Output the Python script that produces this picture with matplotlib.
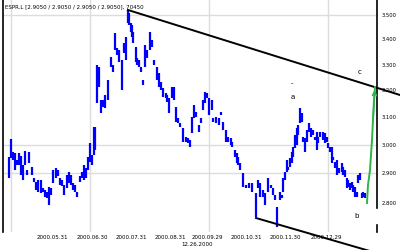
import matplotlib
matplotlib.use('Agg')
import matplotlib.pyplot as plt

# bar time index, high and low of each bar
t = [9, 11, 13, 15, 17, 19, 21, 23, 25, 27, 29, 32, 34, 36, 38, 41, 43, 45, 47, 49,
     51, 53, 56, 58, 60, 62, 64, 67, 69, 71, 73, 75, 77, 80, 82, 84, 86, 88, 90, 92,
     94, 95, 97, 99, 101, 103, 105, 108, 111, 113, 115, 117, 119, 122, 124, 126, 128, 129, 131, 132,
     133, 136, 137, 139, 141, 143, 145, 147, 150, 152, 154, 157, 159, 161, 163, 166, 167, 169, 172, 174,
     176, 178, 180, 183, 186, 188, 190, 192, 194, 196, 199, 201, 203, 205, 207, 209, 212, 213, 216, 219,
     221, 223, 226, 228, 231, 232, 235, 237, 238, 240, 243, 246, 249, 252, 256, 258, 260, 263, 265, 268,
     271, 273, 275, 277, 280, 282, 283, 285, 287, 288, 290, 292, 293, 295, 297, 298, 300, 302, 303, 305,
     307, 309, 311, 313, 315, 317, 318, 320, 323, 325, 327, 328, 330, 332, 333, 335, 337, 339, 342, 343,
     345, 347, 348, 350, 352, 353, 355, 357, 358, 360, 362, 363, 365]
high = [2.9571, 3.0210, 2.9747, 2.9712, 2.9466, 2.9712, 2.9606, 2.9292, 2.9783, 2.9118, 2.9747, 2.9222, 2.8843, 2.8707, 2.8775, 2.8775, 2.8503, 2.8435, 2.8368, 2.8537,
        2.8503, 2.9118, 2.9188, 2.9118, 2.8843, 2.8775, 2.8605, 2.8946, 2.9049, 2.8946, 2.8673, 2.8605, 2.8368, 2.8912, 2.9049, 2.9292, 2.9188, 2.9571, 3.0067, 2.9642,
        3.0643, 3.0643, 3.2983, 3.2905, 3.1641, 3.1641, 3.1829, 3.2401, 3.3298, 3.2983, 3.4260, 3.3655, 3.3576, 3.3179, 3.3856, 3.4098, 3.5208, 3.5083, 3.4669, 3.4587,
        3.4301, 3.3695, 3.3258, 3.3179, 3.2905, 3.2401, 3.3775, 3.3576, 3.4301, 3.3976, 3.3179, 3.2905, 3.2671, 3.2324, 3.2095, 3.1905, 3.1829, 3.1716, 3.2133, 3.2133,
        3.1379, 3.0972, 3.0789, 3.0607, 3.0282, 3.0246, 3.0174, 3.1009, 3.1454, 3.1194, 3.0716, 3.0972, 3.1641, 3.1943, 3.1905, 3.1716, 3.1641, 3.0972, 3.1009, 3.0972,
        3.1194, 3.0825, 3.0534, 3.0282, 3.0246, 3.0102, 2.9818, 2.9712, 2.9571, 2.9361, 2.9015, 2.8605, 2.8673, 2.8673, 2.8334, 2.8775, 2.8673, 2.8435, 2.8334, 2.8843,
        2.8605, 2.8503, 2.8267, 2.7867, 2.8368, 2.8267, 2.8843, 2.9049, 2.9466, 2.9222, 2.9536, 2.9747, 2.9924, 3.0354, 3.0607, 3.0716, 3.1342, 3.1157, 3.0282, 3.0246,
        3.0534, 3.0789, 3.0607, 3.0534, 3.0282, 3.0462, 3.0282, 3.0462, 3.0462, 3.0426, 3.0282, 3.0067, 2.9924, 2.9924, 2.9571, 2.9396, 2.9466, 2.9188, 2.9361, 2.9222,
        2.9118, 2.8843, 2.8775, 2.8673, 2.8707, 2.8605, 2.8537, 2.8368, 2.8946, 2.9015, 2.8334, 2.8368, 2.8334]
low = [2.8843, 2.9536, 2.9466, 2.9118, 2.9292, 2.9292, 2.8946, 2.8775, 2.9292, 2.8946, 2.9361, 2.8946, 2.8707, 2.8435, 2.8368, 2.8334, 2.8368, 2.8200, 2.8167, 2.7934,
       2.8267, 2.8673, 2.8843, 2.8912, 2.8605, 2.8571, 2.8267, 2.8503, 2.8673, 2.8605, 2.8435, 2.8368, 2.8200, 2.8707, 2.8843, 2.8775, 2.8843, 2.9118, 2.9396, 2.9292,
       2.9642, 2.9818, 3.1529, 3.2133, 3.1157, 3.1379, 3.1342, 3.1641, 3.2905, 3.2710, 3.3576, 3.3377, 3.3101, 3.2019, 3.3456, 3.3179, 3.4669, 3.4587, 3.4301, 3.4098,
       3.3856, 3.3101, 3.2983, 3.2905, 3.2710, 3.2209, 3.2905, 3.3258, 3.3576, 3.3695, 3.2983, 3.2401, 3.2133, 3.2019, 3.1754, 3.1716, 3.1566, 3.1157, 3.1716, 3.1641,
       3.0825, 3.0789, 3.0643, 3.0102, 3.0102, 3.0067, 2.9924, 3.0426, 3.0972, 3.1009, 3.0462, 3.0789, 3.1268, 3.1529, 3.1716, 3.1083, 3.1268, 3.0825, 3.0789, 3.0716,
       3.1083, 3.0534, 3.0102, 3.0102, 2.9995, 2.9924, 2.9571, 2.9361, 2.9292, 2.9118, 2.8537, 2.8503, 2.8503, 2.8368, 2.7539, 2.8503, 2.8200, 2.8200, 2.7934, 2.8368,
       2.8503, 2.8267, 2.8100, 2.7214, 2.8100, 2.8167, 2.8368, 2.8775, 2.9049, 2.9118, 2.9222, 2.9361, 2.9571, 2.9889, 2.9995, 3.0354, 3.0789, 3.0825, 3.0102, 2.9747,
       3.0102, 3.0462, 3.0282, 3.0354, 3.0174, 2.9818, 3.0067, 3.0282, 3.0174, 3.0067, 3.0102, 2.9889, 2.9747, 2.9361, 2.9466, 2.9188, 2.8946, 2.9015, 2.9049, 2.8946,
       2.8878, 2.8503, 2.8537, 2.8435, 2.8503, 2.8368, 2.8200, 2.8200, 2.8673, 2.8775, 2.8167, 2.8200, 2.8167]

# projected move (green) and the two trend lines
proj_t = [367, 368, 370, 371, 372, 373, 374, 375]
proj_p = [2.8000, 2.8605, 2.9118, 2.9642, 3.0174, 3.0899, 3.1641, 3.2133]
upper_t = [128, 400]
upper_p = [3.5208, 3.1829]
lower_t = [256, 400]
lower_p = [2.7506, 2.6175]

wave_labels = ['a', 'b', 'c', '-']
wave_t = [293, 357, 360, 292]
wave_p = [3.1754, 2.7571, 3.2710, 3.2286]

price_ticks = [2.8, 2.9, 3.0, 3.1, 3.2, 3.3, 3.4, 3.5]
grid_prices = [2.9, 3.0, 3.5]
grid_t = [11, 90, 209, 328]
date_t = [52, 92, 131, 170, 207, 246, 285, 326]
date_labels = ['2000.05.31', '2000.06.30', '2000.07.31', '2000.08.31',
               '2000.09.29', '2000.10.31', '2000.11.30', '2000.12.29']

fig = plt.figure(figsize=(4, 2.5), dpi=100)
ax = fig.add_axes([3 / 400, 18 / 250, 374 / 400, 232 / 250])
ax.set_yscale('log')
ax.set_xlim(3, 377)
ax.set_ylim(2.7053, 3.5628)

for g in grid_prices:
    ax.axhline(g, color='#dcdcdc', lw=1, zorder=0)
for g in grid_t:
    ax.axvline(g, color='#dcdcdc', lw=1, zorder=0)

ax.vlines(t, low, high, color='#0000ff', lw=1.6, zorder=2)

ax.plot(upper_t, upper_p, color='black', lw=1.4, clip_on=False, zorder=3)
ax.plot(lower_t, lower_p, color='black', lw=1.4, clip_on=False, zorder=3)
ax.plot(proj_t, proj_p, color='#2db34a', lw=1.4, zorder=3)
ax.annotate('', xy=(proj_t[-1], proj_p[-1]), xytext=(proj_t[-3], proj_p[-3]),
            arrowprops=dict(arrowstyle='->', color='#2db34a', lw=1.2, mutation_scale=7))

for lab, x, y in zip(wave_labels, wave_t, wave_p):
    ax.text(x, y, lab, fontsize=5, ha='center', va='center', color='black')

# spines: left full height, right one with a gap near the bottom
for s in ['top', 'bottom', 'right']:
    ax.spines[s].set_visible(False)
ax.spines['left'].set_linewidth(1.2)
ax.axvline(377, ymin=24 / 232, ymax=1, color='black', lw=1.2, clip_on=False)
ax.axvline(377, ymin=0, ymax=7 / 232, color='black', lw=1.2, clip_on=False)

ax.yaxis.tick_right()
ax.set_yticks(price_ticks)
ax.set_yticklabels([f'{v:.3f}' for v in price_ticks])
ax.yaxis.set_minor_locator(matplotlib.ticker.NullLocator())
ax.tick_params(axis='y', length=0, pad=3, labelsize=3.8)

ax.set_xticks(date_t)
ax.set_xticklabels(date_labels)
ax.tick_params(axis='x', length=0, pad=2, labelsize=4)

fig.text(5 / 400, 1 - 7 / 250, 'ESPR.L [2.9050 / 2.9050 / 2.9050 / 2.9050], 70450',
         fontsize=4, ha='left', va='center')
fig.text(197 / 400, 1 - 245 / 250, '12.26.2000', fontsize=4, ha='center', va='center')

fig.savefig('out.png', dpi=100)
